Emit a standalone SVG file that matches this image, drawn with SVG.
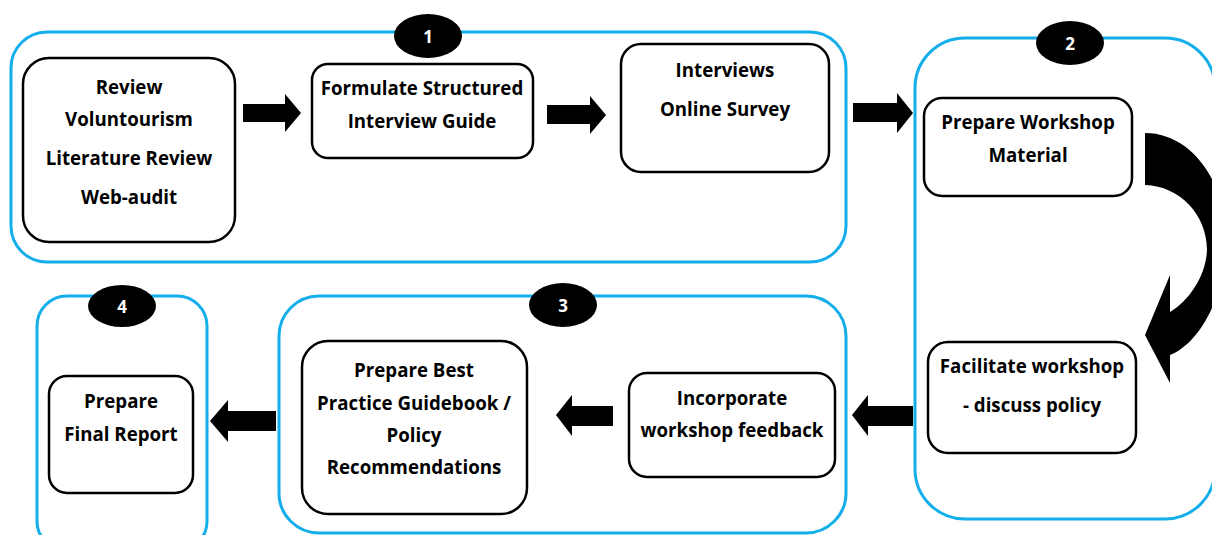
<svg xmlns="http://www.w3.org/2000/svg" width="1212" height="535" viewBox="0 0 1212 535">
<style>
.panel{fill:none;stroke:#14aeea;stroke-width:3}
.box{fill:#fff;stroke:#000;stroke-width:2.5}
.badge{fill:#000}
.num{fill:#fff;font-family:"Open Sans","Liberation Sans",sans-serif;font-weight:700;font-size:17px;text-anchor:middle}
.t{fill:#000;font-family:"Open Sans","Liberation Sans",sans-serif;font-weight:700;font-size:18.7px;text-anchor:middle}
.arr{fill:#000}
</style>
<rect width="1212" height="535" fill="#fff"/>
<g id="panel1">
<rect class="panel" x="11" y="32" width="835" height="230" rx="36"/>
<ellipse class="badge" cx="428" cy="36" rx="34" ry="22"/>
<text class="num" x="428" y="43">1</text>
</g>
<g id="panel2">
<rect class="panel" x="915" y="38" width="300" height="481" rx="50"/>
<ellipse class="badge" cx="1070" cy="43" rx="34" ry="22"/>
<text class="num" x="1070" y="50">2</text>
</g>
<g id="panel3">
<rect class="panel" x="279" y="296" width="567" height="237" rx="40"/>
<ellipse class="badge" cx="563" cy="305" rx="34" ry="22"/>
<text class="num" x="563" y="312">3</text>
</g>
<g id="panel4">
<rect class="panel" x="37" y="296" width="170" height="255" rx="30"/>
<ellipse class="badge" cx="122" cy="306" rx="34" ry="21"/>
<text class="num" x="122" y="313">4</text>
</g>
<g id="review">
<rect class="box" x="23" y="58" width="212" height="184" rx="26"/>
<text class="t" x="129" y="94">Review</text>
<text class="t" x="129" y="126">Voluntourism</text>
<text class="t" x="129" y="165">Literature Review</text>
<text class="t" x="129" y="204">Web-audit</text>
</g>
<g id="formulate">
<rect class="box" x="312" y="64" width="221" height="94" rx="16"/>
<text class="t" x="422" y="95">Formulate Structured</text>
<text class="t" x="422" y="128">Interview Guide</text>
</g>
<g id="interviews">
<rect class="box" x="621" y="44" width="208" height="128" rx="20"/>
<text class="t" x="725" y="77">Interviews</text>
<text class="t" x="725" y="116">Online Survey</text>
</g>
<g id="prepare-workshop">
<rect class="box" x="924" y="98" width="208" height="98" rx="18"/>
<text class="t" x="1028" y="129">Prepare Workshop</text>
<text class="t" x="1028" y="162">Material</text>
</g>
<g id="facilitate">
<rect class="box" x="928" y="342" width="208" height="111" rx="20"/>
<text class="t" x="1032" y="373">Facilitate workshop</text>
<text class="t" x="1032" y="412">- discuss policy</text>
</g>
<g id="incorporate">
<rect class="box" x="629" y="373" width="206" height="104" rx="18"/>
<text class="t" x="732" y="405">Incorporate</text>
<text class="t" x="732" y="437">workshop feedback</text>
</g>
<g id="best-practice">
<rect class="box" x="302" y="341" width="225" height="173" rx="26"/>
<text class="t" x="414" y="377">Prepare Best</text>
<text class="t" x="414" y="410">Practice Guidebook /</text>
<text class="t" x="414" y="442">Policy</text>
<text class="t" x="414" y="474">Recommendations</text>
</g>
<g id="final-report">
<rect class="box" x="49" y="376" width="144" height="117" rx="18"/>
<text class="t" x="121" y="408">Prepare</text>
<text class="t" x="121" y="441">Final Report</text>
</g>
<g id="connectors">
<polygon class="arr" points="243,104 285,104 285,94 301,113 285,132 285,122 243,122"/>
<polygon class="arr" points="547,105 590,105 590,96 606,115 590,134 590,124 547,124"/>
<polygon class="arr" points="853,103 897,103 897,93 913,113 897,133 897,122 853,122"/>
<path class="arr" d="M1145,133 C1200,133 1235,200 1225,262 C1218,310 1195,345 1170,355 L1170,383 L1145,335 L1170,275 L1170,312 C1190,300 1206,275 1207,250 C1207,215 1180,186 1145,185 Z"/>
<polygon class="arr" points="913,406 868,406 868,395 852,415 868,436 868,426 913,426"/>
<polygon class="arr" points="613,406 572,406 572,395 556,415 572,436 572,426 613,426"/>
<polygon class="arr" points="276,411 228,411 228,400 210,421 228,442 228,431 276,431"/>
</g>
</svg>
